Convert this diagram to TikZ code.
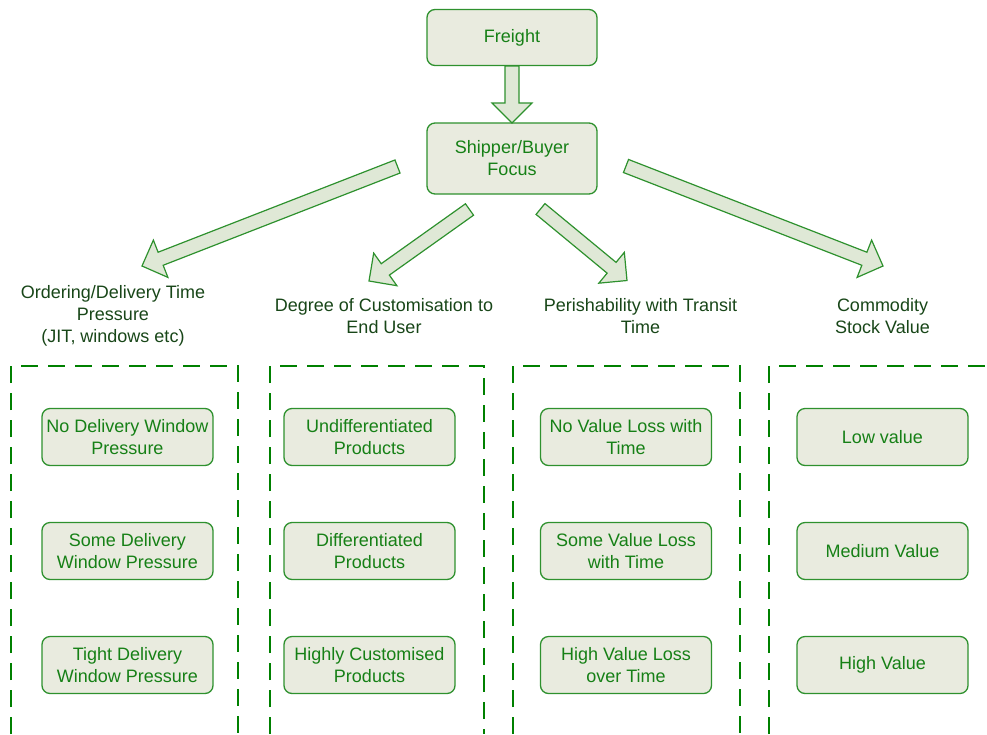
\documentclass[tikz,border=0pt]{standalone}
\usepackage{fontspec}
\setmainfont{Liberation Sans}
\usetikzlibrary{calc}

\definecolor{boxline}{RGB}{46,145,46}
\definecolor{boxfill}{RGB}{233,235,223}
\definecolor{arrowfill}{RGB}{223,232,214}
\definecolor{boxtext}{RGB}{22,128,22}
\definecolor{headtext}{RGB}{24,70,24}
\definecolor{dashgreen}{RGB}{0,128,0}

\tikzset{
  box/.style={draw=boxline, line width=1.3pt, fill=boxfill, rounded corners=8pt,
    minimum width=171pt, minimum height=57pt, inner sep=0pt, align=center,
    text=boxtext, font=\fontsize{18}{22}\selectfont},
  heading/.style={align=center, text=headtext, inner sep=0pt,
    font=\fontsize{18}{22}\selectfont},
  blockarrow/.style={draw=boxline, line width=1.2pt, fill=arrowfill, line join=miter},
  group/.style={draw=dashgreen, line width=2.4pt, dash pattern=on 17pt off 10pt}
}

% broad outlined arrow from #1 to #2 (shaft half-width 7, head half-width 20, head length 20)
\newcommand{\fatarrow}[2]{%
  \path ($(#2)!20pt!(#1)$) coordinate (hb);
  \draw[blockarrow]
    ($(#1)!7pt!90:(#2)$) -- ($(hb)!7pt!90:(#2)$) -- ($(hb)!20pt!90:(#2)$) --
    (#2) --
    ($(hb)!20pt!-90:(#2)$) -- ($(hb)!7pt!-90:(#2)$) -- ($(#1)!7pt!-90:(#2)$) -- cycle;
}

\begin{document}
\begin{tikzpicture}[x=1pt,y=-1pt]
  \useasboundingbox (0,0) rectangle (987,734);

  % top of the hierarchy
  \node[box, minimum width=170pt, minimum height=56pt] (freight) at (512,37.5) {Freight};
  \node[box, minimum width=170pt, minimum height=71pt] (focus) at (512,158.5) {Shipper/Buyer\\Focus};

  % arrow end points
  \coordinate (dA) at (512,66);   \coordinate (dB) at (512,123);
  \coordinate (a1) at (397.5,166.5); \coordinate (b1) at (142,266);
  \coordinate (a2) at (469.5,209.5); \coordinate (b2) at (369,281);
  \coordinate (a3) at (540.5,209);   \coordinate (b3) at (627,280.5);
  \coordinate (a4) at (626,166);     \coordinate (b4) at (883,266);

  \fatarrow{dA}{dB}
  \fatarrow{a1}{b1}
  \fatarrow{a2}{b2}
  \fatarrow{a3}{b3}
  \fatarrow{a4}{b4}

  % category headings
  \node[heading] (h1) at (113,316) {Ordering/Delivery Time\\Pressure\\(JIT, windows etc)};
  \node[heading] (h2) at (384,316) {Degree of Customisation to\\End User};
  \node[heading] (h3) at (640.5,316) {Perishability with Transit\\Time};
  \node[heading] (h4) at (882.5,316) {Commodity\\Stock Value};

  % dashed group frames
  \draw[group] (11,734) -- (11,366) -- (238,366) -- (238,734);
  \draw[group] (270,734) -- (270,366) -- (484,366) -- (484,734);
  \draw[group] (513,734) -- (513,366) -- (740,366) -- (740,734);
  \draw[group] (769,734) -- (769,366) -- (987,366);

  % column 1
  \node[box] (c11) at (127.5,437) {No Delivery Window\\Pressure};
  \node[box] (c12) at (127.5,551) {Some Delivery\\Window Pressure};
  \node[box] (c13) at (127.5,665) {Tight Delivery\\Window Pressure};

  % column 2
  \node[box] (c21) at (369.5,437) {Undifferentiated\\Products};
  \node[box] (c22) at (369.5,551) {Differentiated\\Products};
  \node[box] (c23) at (369.5,665) {Highly Customised\\Products};

  % column 3
  \node[box] (c31) at (626,437) {No Value Loss with\\Time};
  \node[box] (c32) at (626,551) {Some Value Loss\\with Time};
  \node[box] (c33) at (626,665) {High Value Loss\\over Time};

  % column 4
  \node[box] (c41) at (882.5,437) {Low value};
  \node[box] (c42) at (882.5,551) {Medium Value};
  \node[box] (c43) at (882.5,665) {High Value};
\end{tikzpicture}
\end{document}
